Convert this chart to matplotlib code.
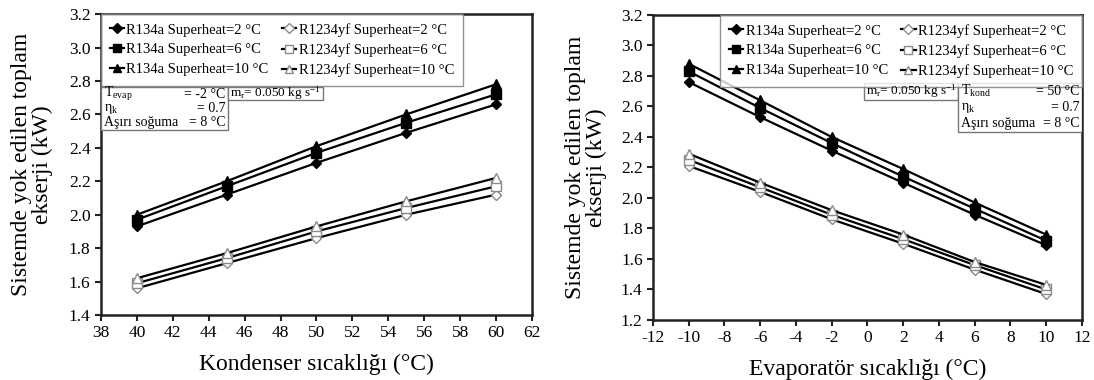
import numpy as np
import matplotlib
matplotlib.use("Agg")
from matplotlib import pyplot as plt
from matplotlib.patches import Rectangle

plt.rcParams['font.family'] = ['Liberation Serif', 'DejaVu Serif']
plt.rcParams['mathtext.default'] = 'regular'
plt.rcParams['axes.unicode_minus'] = False

# condenser temperature sweep (T_evap = -2 C)
t_kond = [40, 45, 50, 55, 60]
kond_r134a_sh2 = [1.93, 2.12, 2.31, 2.49, 2.66]
kond_r134a_sh6 = [1.97, 2.17, 2.37, 2.55, 2.72]
kond_r134a_sh10 = [2.00, 2.20, 2.41, 2.60, 2.78]
kond_r1234yf_sh2 = [1.56, 1.71, 1.86, 2.00, 2.12]
kond_r1234yf_sh6 = [1.59, 1.74, 1.90, 2.04, 2.17]
kond_r1234yf_sh10 = [1.62, 1.77, 1.93, 2.08, 2.22]

# evaporator temperature sweep (T_kond = 50 C)
t_evap = [-10, -6, -2, 2, 6, 10]
evap_r134a_sh2 = [2.76, 2.53, 2.31, 2.10, 1.89, 1.69]
evap_r134a_sh6 = [2.83, 2.59, 2.36, 2.14, 1.93, 1.72]
evap_r134a_sh10 = [2.88, 2.64, 2.40, 2.19, 1.97, 1.76]
evap_r1234yf_sh2 = [2.21, 2.04, 1.86, 1.70, 1.53, 1.37]
evap_r1234yf_sh6 = [2.25, 2.07, 1.89, 1.73, 1.56, 1.40]
evap_r1234yf_sh10 = [2.29, 2.10, 1.92, 1.76, 1.58, 1.43]

labels = ["R134a Superheat=2 °C", "R134a Superheat=6 °C", "R134a Superheat=10 °C",
          "R1234yf Superheat=2 °C", "R1234yf Superheat=6 °C", "R1234yf Superheat=10 °C"]
markers = ['D', 's', '^', 'D', 's', '^']

kond_series = [kond_r134a_sh2, kond_r134a_sh6, kond_r134a_sh10,
               kond_r1234yf_sh2, kond_r1234yf_sh6, kond_r1234yf_sh10]
evap_series = [evap_r134a_sh2, evap_r134a_sh6, evap_r134a_sh10,
               evap_r1234yf_sh2, evap_r1234yf_sh6, evap_r1234yf_sh10]

ylabel = "Sistemde yok edilen toplam\nekserji (kW)"
label_font = dict(size=17)


def plot_series(ax, x, series):
    for i, y in enumerate(series):
        ms = 5.5 if markers[i] == 'D' else 6.5
        if i < 3:
            ax.plot(x, y, color='black', lw=1.6, marker=markers[i], ms=ms,
                    mfc='black', mec='black', label=labels[i], zorder=3)
        else:
            ax.plot(x, y, color='black', lw=1.6, marker=markers[i], ms=ms,
                    mfc='white', mec='#8a8a8a', mew=1.0, label=labels[i], zorder=3)


def style_axes(ax):
    for s in ax.spines.values():
        s.set_linewidth(1.8)
        s.set_color('#222222')
    ax.tick_params(direction='out', length=4, width=1.5, labelsize=12.5, color='#222222')


def add_legend(ax, loc, anchor):
    leg = ax.legend(ncol=2, loc=loc, bbox_to_anchor=anchor, fontsize=10.5,
                    frameon=True, fancybox=False, borderaxespad=0, handlelength=1.0,
                    handletextpad=0.15, columnspacing=0.9, labelspacing=0.45, borderpad=0.6,
                    markerscale=0.85)
    leg.get_frame().set_edgecolor('#777777')
    leg.get_frame().set_linewidth(1.0)
    return leg


def info_box(ax, x0, x1, y0, y1, rows):
    ax.add_patch(Rectangle((x0, y0), x1 - x0, y1 - y0, transform=ax.transAxes,
                           fill=True, fc='white', ec='#777777', lw=1.0, zorder=5))
    n = len(rows)
    for k, (name, val) in enumerate(rows):
        yc = y1 - (k + 0.5) * (y1 - y0) / n
        ax.text(x0 + 0.008, yc, name, transform=ax.transAxes, ha='left', va='center',
                fontsize=10, zorder=6)
        ax.text(x1 - 0.006, yc, val, transform=ax.transAxes, ha='right', va='center',
                fontsize=10, zorder=6)


def mass_box(ax, x0, x1, y0, y1):
    ax.add_patch(Rectangle((x0, y0), x1 - x0, y1 - y0, transform=ax.transAxes,
                           fill=True, fc='white', ec='#777777', lw=1.0, zorder=5))
    ax.text((x0 + x1) / 2, (y0 + y1) / 2, "m$_r$= 0.050 kg s$^{-1}$", transform=ax.transAxes,
            ha='center', va='center', fontsize=9.5, zorder=6)


fig = plt.figure(figsize=(10.94, 3.8), dpi=100)
ax1 = fig.add_axes([0.0923, 0.171, 0.394, 0.792])
ax2 = fig.add_axes([0.5969, 0.158, 0.392, 0.8026])

# left panel: condenser temperature
plot_series(ax1, t_kond, kond_series)
ax1.set_xlim(38, 62)
ax1.set_ylim(1.4, 3.2)
ax1.set_xticks(np.arange(38, 63, 2))
ax1.set_yticks(np.arange(1.4, 3.21, 0.2))
ax1.set_yticklabels([f"{v:.1f}" for v in np.arange(1.4, 3.21, 0.2)])
style_axes(ax1)
ax1.set_xlabel("Kondenser sıcaklığı (°C)", fontdict=label_font, labelpad=9)
ax1.set_ylabel(ylabel, fontdict=label_font, linespacing=1.0)
ax1.yaxis.set_label_coords(-0.112, 0.5)
add_legend(ax1, 'upper left', (0, 1))
info_box(ax1, 0.0, 0.295, 0.615, 0.757,
         [("T$_{evap}$", "= -2 °C"), ("η$_k$", "= 0.7"), ("Aşırı soğuma", "= 8 °C")])
mass_box(ax1, 0.295, 0.515, 0.714, 0.757)

# right panel: evaporator temperature
plot_series(ax2, t_evap, evap_series)
ax2.set_xlim(-12, 12)
ax2.set_ylim(1.2, 3.2)
ax2.set_xticks(np.arange(-12, 13, 2))
ax2.set_yticks(np.arange(1.2, 3.21, 0.2))
ax2.set_yticklabels([f"{v:.1f}" for v in np.arange(1.2, 3.21, 0.2)])
style_axes(ax2)
ax2.set_xlabel("Evaporatör sıcaklığı (°C)", fontdict=label_font, labelpad=9)
ax2.set_ylabel(ylabel, fontdict=label_font, linespacing=1.0)
ax2.yaxis.set_label_coords(-0.108, 0.5)
add_legend(ax2, 'upper right', (1, 1))
mass_box(ax2, 0.492, 0.711, 0.721, 0.777)
info_box(ax2, 0.711, 1.0, 0.616, 0.777,
         [("T$_{kond}$", "= 50 °C"), ("η$_k$", "= 0.7"), ("Aşırı soğuma", "= 8 °C")])

fig.savefig("out.png", dpi=100, facecolor="white")
